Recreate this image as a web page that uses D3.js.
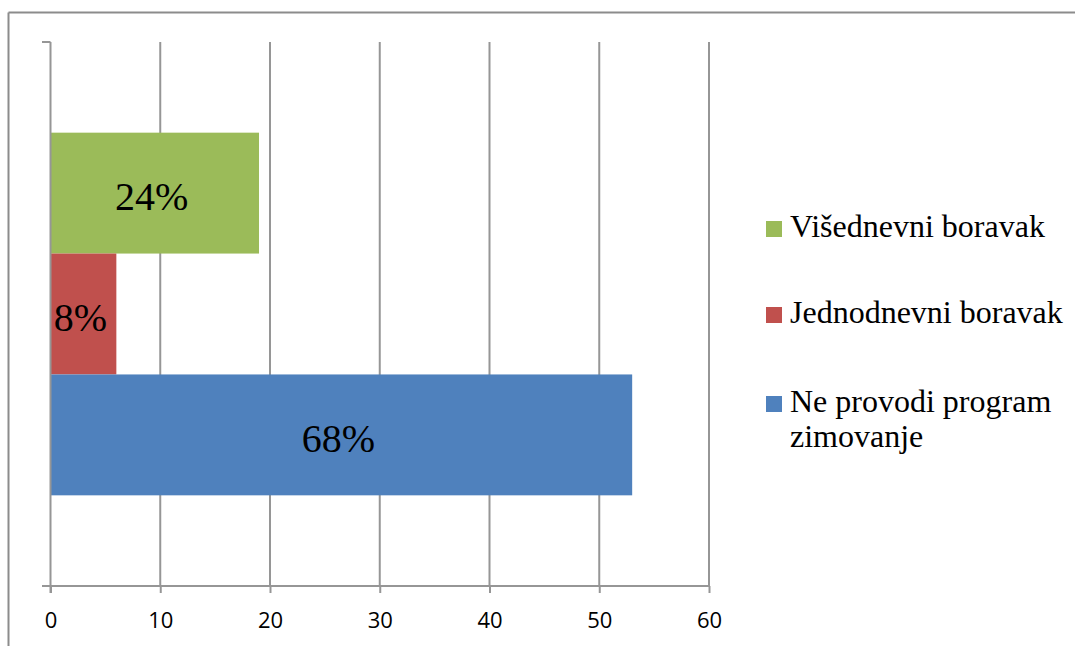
<!DOCTYPE html>
<html><head><meta charset="utf-8">
<script src="https://cdn.jsdelivr.net/npm/d3@7/dist/d3.min.js"></script>
<style>html,body{margin:0;padding:0;background:#fff;}</style>
</head><body>
<svg id="chart" width="1075" height="646"></svg>
<script>
const series = ["Višednevni boravak", "Jednodnevni boravak", "Ne provodi program zimovanje"];
const values = [19, 6, 53];
const percentLabels = ["24%", "8%", "68%"];
const colors = ["#9BBB59", "#C0504D", "#4F81BD"];
const xTicks = [0, 10, 20, 30, 40, 50, 60];
const legendLines = [["Višednevni boravak"], ["Jednodnevni boravak"], ["Ne provodi program", "zimovanje"]];

const svg = d3.select("#chart");
const grid = "#969696";

// frame (top and left edge)
svg.append("line").attr("x1", 8.5).attr("x2", 1075).attr("y1", 12.5).attr("y2", 12.5).attr("stroke", "#8c8c8c").attr("stroke-width", 2);
svg.append("line").attr("x1", 8.5).attr("x2", 8.5).attr("y1", 12.5).attr("y2", 646).attr("stroke", "#8c8c8c").attr("stroke-width", 2);

const plot = {left: 50.5, right: 709, top: 42, bottom: 586};
const x = d3.scaleLinear().domain([0, 60]).range([plot.left, plot.right]);
const y = d3.scaleBand().domain(series).range([plot.top, plot.bottom]).paddingInner(0).paddingOuter(0.75);

// gridlines
svg.append("g").selectAll("line").data(xTicks.slice(1)).join("line")
  .attr("x1", d => x(d)).attr("x2", d => x(d))
  .attr("y1", plot.top).attr("y2", plot.bottom)
  .attr("stroke", grid).attr("stroke-width", 2);

// bars
svg.append("g").selectAll("rect").data(series).join("rect")
  .attr("x", x(0)).attr("y", d => y(d))
  .attr("width", (d, i) => x(values[i]) - x(0))
  .attr("height", y.bandwidth())
  .attr("fill", (d, i) => colors[i]);

// bar labels
svg.append("g").selectAll("text").data(series).join("text")
  .attr("x", (d, i) => (x(0) + x(values[i])) / 2 - 3)
  .attr("y", d => y(d) + y.bandwidth() / 2 + 17)
  .attr("text-anchor", "middle")
  .attr("font-family", "'Liberation Serif','Times New Roman',serif")
  .attr("font-size", 40)
  .attr("fill", "#000")
  .text((d, i) => percentLabels[i]);

// x axis
const xAxis = d3.axisBottom(x).tickValues(xTicks).tickSize(7).tickSizeOuter(0).tickPadding(19);
const gx = svg.append("g").attr("transform", `translate(0,${plot.bottom})`).call(xAxis);
gx.select(".domain").remove();
gx.selectAll(".tick line").attr("stroke", grid).attr("stroke-width", 2);
gx.selectAll(".tick text").attr("font-family", "'Open Sans','Liberation Sans',sans-serif").attr("font-size", 22).attr("fill", "#000");
svg.append("line").attr("x1", 42).attr("x2", plot.right + 1).attr("y1", plot.bottom).attr("y2", plot.bottom).attr("stroke", grid).attr("stroke-width", 2);

// y axis
svg.append("line").attr("x1", plot.left).attr("x2", plot.left).attr("y1", plot.top).attr("y2", plot.bottom + 7).attr("stroke", grid).attr("stroke-width", 2);
svg.append("g").selectAll("line").data([plot.top, plot.bottom]).join("line")
  .attr("x1", 42).attr("x2", plot.left).attr("y1", d => d).attr("y2", d => d)
  .attr("stroke", grid).attr("stroke-width", 2);

// legend
const legendBaseline = [237, 323, 412];
const lg = svg.append("g");
series.forEach((s, i) => {
  const g = lg.append("g").attr("transform", `translate(766,${legendBaseline[i]})`);
  g.append("rect").attr("y", -16).attr("width", 16).attr("height", 16).attr("fill", colors[i]);
  const t = g.append("text").attr("x", 24).attr("y", 0)
    .attr("font-family", "'Liberation Serif','Times New Roman',serif")
    .attr("font-size", 32).attr("fill", "#000");
  legendLines[i].forEach((ln, j) => t.append("tspan").attr("x", 24).attr("dy", j === 0 ? 0 : 35).text(ln));
});
</script>
</body></html>
